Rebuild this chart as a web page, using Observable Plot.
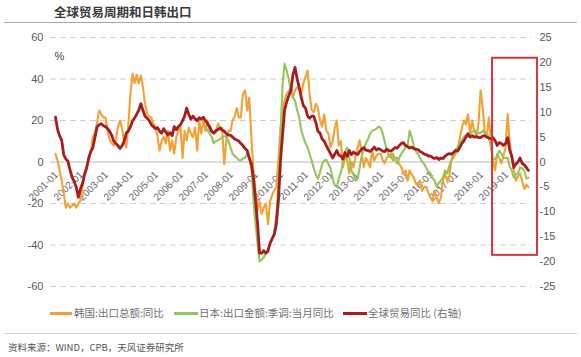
<!DOCTYPE html>
<html><head><meta charset="utf-8">
<script src="https://cdn.jsdelivr.net/npm/d3@7"></script>
<script src="https://cdn.jsdelivr.net/npm/@observablehq/plot@0.6"></script>
<style>
body{margin:0;background:#fff;}
#wrap{position:relative;width:581px;height:357px;overflow:hidden;background:#fff;font-family:"Liberation Sans","Noto Sans CJK SC",sans-serif;}
#title{position:absolute;left:54px;top:4px;font-size:12.5px;line-height:16px;font-weight:bold;color:#3a3a3a;font-family:"Noto Sans CJK SC",sans-serif;white-space:nowrap;}
#rule1{position:absolute;left:4px;right:4px;top:22px;border-top:1.5px solid #b3a594;}
#chart{position:absolute;left:0;top:25px;}
.sw{position:absolute;height:3px;top:312px;}
.lt{position:absolute;top:306px;font-size:10.5px;line-height:14px;color:#707070;font-family:"Noto Sans CJK SC",sans-serif;white-space:nowrap;}
#rule2{position:absolute;left:4px;right:4px;top:333px;border-top:1.5px solid #d3d1ba;}
#cap{position:absolute;left:8px;top:340px;font-size:9.5px;line-height:14px;color:#555;font-family:"Noto Sans CJK SC",sans-serif;white-space:nowrap;}
</style></head>
<body>
<div id="wrap">
  <div id="title"></div>
  <div id="rule1"></div>
  <div id="chart"></div>
  <div id="legend"></div>
  <div id="rule2"></div>
  <div id="cap"></div>
</div>
<script>
// ---- texts ----
const titleText = "全球贸易周期和日韩出口";
const seriesNames = ["韩国:出口总额:同比", "日本:出口金额:季调:当月同比", "全球贸易同比 (右轴)"];
const seriesColors = ["#F3A133", "#93C65B", "#A81B1E"];
const captionText = "资料来源：WIND，CPB，天风证券研究所";
const unitLabel = "%";

// ---- axes ----
const leftTicks = [60, 40, 20, 0, -20, -40, -60];
const rightTicks = [25, 20, 15, 10, 5, 0, -5, -10, -15, -20, -25];
const rightToLeft = 60 / 25; // right axis -25..25 maps onto left -60..60
const tickYears = d3.range(2001, 2020);

// ---- data (monthly, % yoy) ----
const koreaStart = [2001, 0];
const koreaYoY = [
  4, 0.7, -4, -9, -15, -22, -20, -22, -21, -20, -22, -20,          // 2001
  -18.6, -12, -6, -2, 0.7, 5.5, 12, 14, 19, 24.8, 23, 21.5,        // 2002
  21.5, 15, 11, 9, 8, 10.4, 16.6, 20, 16, 10, 7, 18,               // 2003
  33, 42.6, 38, 42, 38, 41.7, 36, 28, 23, 22, 21.5, 18.5,          // 2004
  16.6, 12, 5.5, 10.4, 12, 9, 15, 5.5, 10.4, 4, 12, 15,            // 2005
  16.6, 2, 15, 10.4, 16.6, 13.7, 12, 16.6, 5.5, 20, 13.7, 20,      // 2006
  15, 20, 15, 15, 13.7, 14, 18.5, 16.6, 16.6, -1, 10.4, 15,        // 2007
  15, 20, 22, 26, 21.5, 21.5, 33, 34.5, 24.8, 31, 12, -4,          // 2008
  -14, -23, -19, -25, -22, -20, -30, -19, -16, -13.7, -12, 1,      // 2009
  16.6, 25, 30, 33, 34, 36, 31, 34.5, 36, 35, 33, 38,              // 2010
  41, 44, 33, 25, 24, 28, 26, 20, 17, 23, 15, 13.7,                // 2011
  7, 10, 16, 20, 8, 10, -2.6, 2, 1, -5.5, 0, -2.6,                 // 2012
  3, 7, 10.4, 5, -2.6, 2, 0, -2.6, 5.5, 0.7, 3, 4,                 // 2013
  4, 1, -0.7, 2, 3, 4, 0.7, 2, 2, -1, -2.6, -5.5,                  // 2014
  -4, -9, -4, -6, -7.5, -10.4, -10.4, -9, -14, -12, -12, -15,      // 2015
  -17, -19, -14, -17, -20, -17, -9, -5.5, -9, -7, 0.7, 2,          // 2016
  4, 7, 11, 16, 20, 18, 23, 14, 20, 15, 12, 18.5,                  // 2017
  34.5, 26, 15, 12, 21.5, 10.4, 0.7, -4, 4, 2, -0.7, 3,            // 2018
  7, 23, 10, 2, -4, -9, -7, -5.5, -9, -13, -11, -12                // 2019
];
const japanStart = [2007, 0];
const japanYoY = [
  17, 15, 14, 12, 9, 10, 10.4, 11, 12, 12.5, 12, 10,               // 2007
  7, 4, 3, 2, 1, 0.7, 1.7, 2, 4, 2, -3, -18,                       // 2008
  -30, -40, -48, -47, -46, -44, -42, -40, -37, -34, -25, -10,      // 2009
  13.7, 38, 47.5, 44, 40, 34, 31, 29.6, 25, 21.5, 15, 12,          // 2010
  9, 7, 4, 0.7, -3, -6, -8, -5, -1, 0.7, 1, -1,                    // 2011
  -3, -8, -11, -12, -8, -5, 0, 5, 7, 2, -4, -6,                    // 2012
  -9, -8, -3, 3, 6, 9, 11, 13.7, 15, 15.5, 16, 17,                 // 2013
  16.6, 14, 10, 6, 3, 2, 4, 1, -0.7, 2, 4, 5.5,                    // 2014
  7, 8, 15, 12, 8, 5, 4, 2, 0, -1, -3, -4.5,                       // 2015
  -5.5, -8, -9, -12, -10, -9, -7.5, -4, -5.5, -2, 1, 4,            // 2016
  6, 7, 9, 10.4, 12, 13, 12, 13.7, 14.5, 15, 15, 14,               // 2017
  14, 15, 14, 13.7, 12, 7, 1, 1.5, 3, 5.5, 4, 2,                   // 2018
  2, 2, -2, -4, -7.5, -6, -5.5, -2.6, -3, -4, -8, -7.5             // 2019
];
const globalStart = [2001, 0];
const globalTradeYoY = [ // right axis
  9.0, 6.5, 5.3, 4.4, 1.5, 0.6, 0.2, -1.6, -3.1, -3.9, -5.1, -7.1,  // 2001
  -5.4, -4.2, -2.5, -1.2, 0.8, 2.1, 2.9, 5.0, 7.1, 7.5, 7.7, 7.3,   // 2002
  7.1, 6.7, 6.2, 5.4, 4.2, 3.7, 3.3, 2.7, 3.3, 4.2, 5.8, 6.2,       // 2003
  7.1, 8.3, 8.8, 9.6, 10.4, 11.7, 10.4, 9.2, 8.8, 8.3, 7.5, 7.1,    // 2004
  6.7, 6.9, 6.2, 5.8, 6.7, 6.0, 5.4, 5.9, 5.3, 7.1, 6.5, 7.1,       // 2005
  7.5, 8.3, 9.2, 10.8, 9.6, 8.6, 9.2, 8.7, 8.3, 8.9, 8.6, 9.0,      // 2006
  8.3, 7.7, 7.1, 6.2, 5.8, 6.3, 6.5, 6.8, 6.4, 6.2, 5.7, 5.4,       // 2007
  5.4, 5.0, 4.6, 4.4, 4.2, 3.7, 3.3, 2.7, 2.3, 0.8, -0.4, -3.1,     // 2008
  -7.8, -12.5, -18.3, -18.3, -17.8, -18.3, -17.9, -16.3, -15.4, -14.6, -12.5, -7.8, // 2009
  0.3, 5.7, 10.4, 12.1, 13.3, 14.3, 17.5, 19.0, 16.7, 15.0, 12.9, 11.3, // 2010
  10.8, 9.2, 8.8, 9.2, 9.2, 7.9, 6.2, 5.8, 4.6, 4.2, 3.3, 2.5,      // 2011
  1.7, 0.8, 1.5, 2.3, 1.4, 1.2, 0.6, 1.9, 1.1, 2.3, 1.5, 2.0,       // 2012
  1.7, 1.5, 2.1, 2.6, 2.9, 2.4, 2.3, 2.1, 2.5, 3.0, 2.4, 2.7,       // 2013
  2.5, 2.2, 2.1, 2.6, 2.3, 2.2, 2.5, 2.9, 2.8, 3.3, 3.7, 3.9,       // 2014
  3.3, 3.1, 2.8, 3.0, 2.7, 2.6, 2.5, 2.1, 1.9, 1.6, 1.5, 1.2,       // 2015
  1.2, 0.9, 0.7, 0.9, 0.5, 0.8, 0.7, 1.2, 1.5, 1.7, 1.6, 1.9,       // 2016
  2.3, 2.2, 2.9, 3.7, 4.2, 5.0, 5.7, 5.0, 5.3, 5.0, 5.1, 4.9,       // 2017
  4.9, 5.2, 5.3, 5.0, 4.8, 4.7, 4.9, 4.3, 3.3, 3.9, 3.7, 3.3,       // 2018
  3.7, 4.9, 2.5, 1.2, -1.1, -0.4, 0.0, 0.8, -0.3, -0.6, -1.1, -1.7  // 2019
];

// ---- highlight box (annotation) ----
const highlightDates = [new Date(2018, 5, 25), new Date(2020, 3, 12)];
const highlightRange = [-45, 50];

const toRows = (start, vals, k = 1) => vals.map((v, i) => ({date: new Date(start[0], start[1] + i, 1), v: v * k}));
const korea = toRows(koreaStart, koreaYoY);
const japan = toRows(japanStart, japanYoY);
const globalT = toRows(globalStart, globalTradeYoY, rightToLeft);

document.getElementById("title").textContent = titleText;
document.getElementById("cap").textContent = captionText;

const font = "Liberation Sans, Noto Sans CJK SC, sans-serif";
const gridVals = leftTicks.filter(d => d !== 0);

const chart = Plot.plot({
  width: 581,
  height: 280,
  marginLeft: 50,
  marginRight: 50,
  marginTop: 12,
  marginBottom: 19,
  style: {overflow: "visible", background: "transparent", fontFamily: font},
  x: {type: "time", domain: [new Date(2000, 9, 20), new Date(2020, 0, 15)], axis: null},
  y: {domain: [-60, 60], axis: null},
  marks: [
    Plot.ruleY(gridVals, {stroke: "#cfcfcf", strokeWidth: 1, strokeDasharray: "6,4"}),
    Plot.ruleY([0], {stroke: "#d2d2d2", strokeWidth: 1.5}),
    Plot.text(leftTicks, {y: d => d, frameAnchor: "left", textAnchor: "end", dx: -7, text: d => String(d), fontSize: 11, fill: "#595959", fontFamily: font}),
    Plot.text(rightTicks, {y: d => d * rightToLeft, frameAnchor: "right", textAnchor: "start", dx: 8, text: d => String(d), fontSize: 11, fill: "#595959", fontFamily: font}),
    Plot.text([unitLabel], {frameAnchor: "top-left", textAnchor: "start", dx: 4, dy: 15, text: d => d, fontSize: 11, fill: "#444", fontFamily: font}),
    Plot.text(tickYears, {x: d => new Date(d, 0, 1), y: 0, text: d => `${d}-01`, rotate: -45, textAnchor: "end", dx: 1, dy: 11, fontSize: 10, fill: "#666", fontFamily: font}),
    Plot.line(korea, {x: "date", y: "v", stroke: seriesColors[0], strokeWidth: 2.1, strokeLinejoin: "round"}),
    Plot.line(japan, {x: "date", y: "v", stroke: seriesColors[1], strokeWidth: 2.1, strokeLinejoin: "round"}),
    Plot.line(globalT, {x: "date", y: "v", stroke: seriesColors[2], strokeWidth: 2.8, strokeLinejoin: "round"}),
    Plot.rect([0], {x1: () => highlightDates[0], x2: () => highlightDates[1], y1: () => highlightRange[0], y2: () => highlightRange[1], fill: "none", stroke: "#D8363A", strokeWidth: 2})
  ]
});
document.getElementById("chart").appendChild(chart);

// legend
const legPos = [{sw: 50, sww: 22, tx: 74}, {sw: 174, sww: 24, tx: 199}, {sw: 343, sww: 24, tx: 368}];
const leg = document.getElementById("legend");
seriesNames.forEach((name, i) => {
  const s = document.createElement("div");
  s.className = "sw";
  s.style.left = legPos[i].sw + "px";
  s.style.width = legPos[i].sww + "px";
  s.style.background = seriesColors[i];
  leg.appendChild(s);
  const t = document.createElement("div");
  t.className = "lt";
  t.style.left = legPos[i].tx + "px";
  t.textContent = name;
  leg.appendChild(t);
});
</script>
</body></html>
